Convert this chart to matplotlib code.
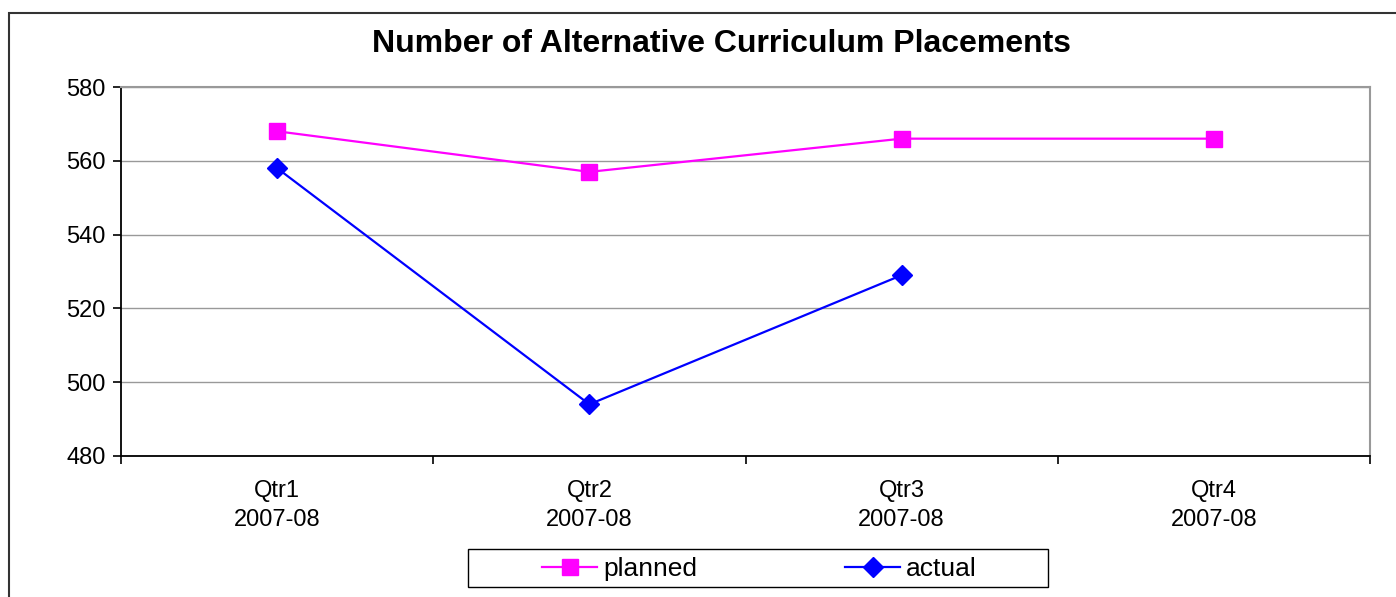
import matplotlib
matplotlib.use("Agg")
import matplotlib.pyplot as plt
from matplotlib.patches import Rectangle

plt.rcParams.update({
    "font.family": ["Liberation Sans", "DejaVu Sans"],
})

QUARTERS = ["Qtr1\n2007-08", "Qtr2\n2007-08", "Qtr3\n2007-08", "Qtr4\n2007-08"]
PLANNED = [568, 557, 566, 566]
ACTUAL = [558, 494, 529]
Y_TICKS = [480, 500, 520, 540, 560, 580]

W, H = 1396, 597


def main():
    fig = plt.figure(figsize=(W / 100, H / 100), dpi=100)
    ax = fig.add_axes([121 / W, 1 - 456 / H, (1370 - 121) / W, (456 - 87) / H])

    # outer chart-area border (only top/left visible in the original)
    fig.patches.append(Rectangle((9 / W, -0.5), 2, 1 - 13 / H + 0.5,
                                 transform=fig.transFigure, fill=False,
                                 edgecolor="#333333", linewidth=1.5))

    x = list(range(len(QUARTERS)))
    ax.plot(x, PLANNED, color="#FF00FF", linewidth=1.6, marker="s",
            markersize=11.5, label="planned", zorder=3)
    ax.plot(x[:len(ACTUAL)], ACTUAL, color="#0000FF", linewidth=1.6, marker="D",
            markersize=10, label="actual", zorder=3)

    ax.set_xlim(-0.5, len(QUARTERS) - 0.5)
    ax.set_ylim(Y_TICKS[0], Y_TICKS[-1])
    ax.set_yticks(Y_TICKS)
    ax.grid(axis="y", color="#999999", linewidth=1.0)
    ax.set_axisbelow(True)

    ax.set_xticks([i - 0.5 for i in range(len(QUARTERS) + 1)])
    ax.set_xticklabels([])
    ax.set_xticks(x, minor=True)
    ax.set_xticklabels(QUARTERS, minor=True, linespacing=1.45)
    ax.tick_params(axis="x", which="minor", length=0, pad=17, labelsize=17)
    ax.tick_params(axis="x", which="major", length=6, width=1.2, color="black")
    ax.tick_params(axis="y", length=6, width=1.2, labelsize=17, pad=5)

    for side in ("top", "right"):
        ax.spines[side].set_color("#999999")
        ax.spines[side].set_linewidth(1.5)
    for side in ("left", "bottom"):
        ax.spines[side].set_color("black")
        ax.spines[side].set_linewidth(1.3)

    fig.text(721 / W, 1 - 44 / H, "Number of Alternative Curriculum Placements",
             ha="center", va="center", fontsize=23, fontweight="bold")

    # legend box
    fig.patches.append(Rectangle((468 / W, 1 - 587 / H), 580 / W, 38 / H,
                                 transform=fig.transFigure, fill=False,
                                 edgecolor="black", linewidth=1.0))
    fig.legend(loc="center left", bbox_to_anchor=(542 / W, 1 - 569 / H),
               ncol=2, frameon=False, fontsize=19, handlelength=2.1,
               handletextpad=0.22, columnspacing=5.6, borderpad=0,
               borderaxespad=0)

    fig.savefig("out.png", dpi=100)
    plt.close(fig)


if __name__ == "__main__":
    main()
